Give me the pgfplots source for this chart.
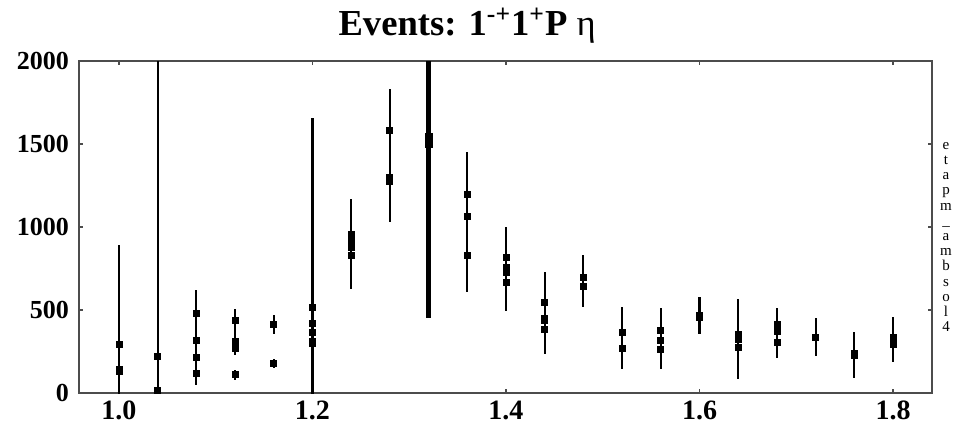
\documentclass[border=0pt]{standalone}
\usepackage{fontspec}
\setmainfont{Liberation Serif}
\usepackage{pgfplots}
\pgfplotsset{compat=1.18}
\usepackage{pgfplotstable}

% mass bin, intensity, error (several solutions per bin)
\pgfplotstableread{
x     y     e
1.00  295   595
1.00  130   420
1.00  142   400
1.04  221   2400
1.04  14    900
1.08  478   140
1.08  319   190
1.08  215   160
1.08  119   70
1.12  440   66
1.12  311   80
1.12  271   40
1.12  110   30
1.16  411   58
1.16  177   27
1.20  514   1140
1.20  420   1040
1.20  366   400
1.20  313   350
1.20  300   300
1.24  956   210
1.24  918   230
1.24  880   220
1.24  827   200
1.28  1584  250
1.28  1300  270
1.28  1273  240
1.36  1199  250
1.36  1066  250
1.36  827   220
1.36  830   210
1.40  817   185
1.40  757   160
1.40  725   170
1.40  665   170
1.44  546   180
1.44  450   150
1.44  440   140
1.44  386   150
1.48  697   134
1.48  645   125
1.52  363   153
1.52  267   124
1.56  380   130
1.56  319   120
1.56  263   118
1.60  470   106
1.60  455   100
1.64  355   211
1.64  323   240
1.64  273   190
1.68  416   98
1.68  369   100
1.68  303   92
1.72  335   115
1.76  229   138
1.76  240   130
1.80  335   125
1.80  295   108
}\solA

% the 1.32 bin, drawn with a heavier bar
\pgfplotstableread{
x     y     e
1.32  1540  1090
1.32  1500  1050
1.32  1520  1000
}\solB

\begin{document}
\begin{tikzpicture}
\useasboundingbox (-39.5pt,-16pt) rectangle (439pt,196.5pt);
\begin{axis}[
  at={(0,0)}, anchor=south west,
  scale only axis,
  width=426.5pt, height=166pt,
  xmin=0.9587, xmax=1.8403,
  ymin=0, ymax=2000,
  xtick={1.0,1.2,1.4,1.6,1.8},
  ytick={0,500,1000,1500,2000},
  tick align=inside,
  major tick length=2pt,
  tick style={black!70, line width=0.6pt},
  axis line style={black!70, line width=0.8pt},
  /pgf/number format/assume math mode=true,
  /pgf/number format/1000 sep={},
  xticklabel style={/pgf/number format/fixed, /pgf/number format/fixed zerofill,
    /pgf/number format/precision=1, font=\fontsize{14}{14}\selectfont\bfseries, yshift=-0.5pt},
  yticklabel style={font=\fontsize{13}{13}\selectfont\bfseries, xshift=-1.5pt},
  title={\textbf{Events: 1\textsuperscript{-+}1\textsuperscript{+}P} {\mdseries η}},
  title style={at={(0.455,1.042)}, anchor=base, font=\fontsize{18.3}{18}\selectfont},
]
\addplot[only marks, mark=square*, mark size=1.5pt, black,
  error bars/.cd, y dir=both, y explicit,
  error bar style={line width=1.1pt, black}, error mark=none]
  table[x=x, y=y, y error=e] {\solA};
\addplot[only marks, mark=square*, mark size=1.8pt, black,
  error bars/.cd, y dir=both, y explicit,
  error bar style={line width=2.6pt, black}, error mark=none]
  table[x=x, y=y, y error=e] {\solB};
\end{axis}
% solution-set tag along the right edge, one letter per line
\node[anchor=center, align=center, font=\fontsize{7.5}{7.6}\selectfont]
  at (433.5pt,78pt) {e\\t\\a\\p\\m\\\_\\a\\m\\b\\s\\o\\l\\4};
\end{tikzpicture}
\end{document}
